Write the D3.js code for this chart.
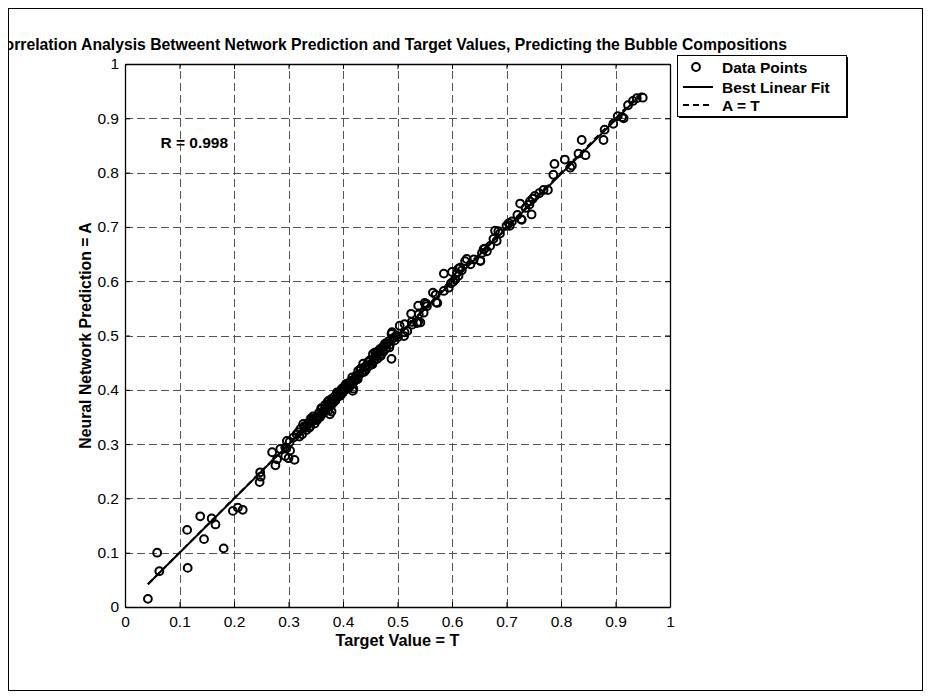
<!DOCTYPE html>
<html><head><meta charset="utf-8">
<script src="https://cdn.jsdelivr.net/npm/d3@7"></script>
<style>
body{margin:0;background:#fff;}
svg{display:block;font-family:"Liberation Sans",Arial,sans-serif;}
</style></head>
<body><svg id="c" width="931" height="698"></svg>
<script>
const targets = [
0.042,0.059,0.063,0.115,0.114,0.138,0.145,0.159,0.166,0.181,0.198,0.207,0.216,0.247,0.249,0.248,
0.276,0.279,0.270,0.285,0.294,0.303,0.311,0.297,0.309,0.315,0.294,0.300,0.302,0.296,
0.327,0.337,0.346,0.355,0.361,0.367,0.376,0.379,0.388,0.398,0.410,0.419,0.422,0.428,0.437,0.446,0.455,0.468,0.477,0.489,0.489,0.504,0.513,0.526,0.538,0.538,0.550,
0.379,0.418,0.490,0.481,0.459,
0.318,0.322,0.325,0.330,0.333,0.335,0.340,0.343,0.348,0.350,0.352,0.356,0.358,0.362,0.364,0.366,0.369,0.371,0.373,0.375,0.378,0.381,0.383,0.385,0.387,0.390,0.392,0.394,0.396,0.399,0.401,0.403,0.405,0.407,0.409,0.412,0.414,0.416,0.420,0.424,0.426,0.430,0.433,0.435,0.440,0.442,0.444,0.448,0.450,0.452,0.457,0.461,0.463,0.465,0.470,0.472,0.474,0.479,0.483,0.486,0.492,0.495,0.498,0.501,
0.320,0.329,0.338,0.345,0.353,0.360,0.368,0.374,0.382,0.389,0.395,0.404,0.411,0.417,0.425,0.432,0.439,0.447,0.454,0.462,0.469,0.476,0.485,0.341,0.357,0.372,0.386,0.406,0.427,0.466,
0.512,0.518,0.527,0.536,0.539,0.548,0.554,0.573,0.570,0.585,0.594,0.585,0.606,0.609,0.615,0.624,0.634,0.652,0.655,0.664,0.682,0.685,0.704,0.710,0.728,0.725,0.746,0.743,
0.565,0.571,0.553,0.525,0.542,0.513,0.598,0.602,0.612,0.618,0.640,0.660,0.670,0.688,0.700,0.720,0.735,0.748,0.752,
0.742,0.727,0.706,0.679,0.676,0.658,0.627,0.652,0.612,0.600,
0.760,0.768,0.776,0.786,0.788,0.807,0.817,0.820,0.832,0.838,0.845,0.878,0.880,0.896,0.904,0.912,0.915,0.923,0.932,0.939,0.950
];
const predictions = [
0.015,0.100,0.066,0.072,0.142,0.167,0.125,0.163,0.152,0.108,0.177,0.183,0.179,0.230,0.240,0.248,
0.261,0.272,0.285,0.291,0.294,0.288,0.271,0.306,0.312,0.318,0.278,0.274,0.304,0.292,
0.337,0.340,0.346,0.352,0.365,0.372,0.355,0.383,0.392,0.402,0.411,0.402,0.420,0.435,0.448,0.451,0.466,0.475,0.485,0.457,0.503,0.518,0.506,0.525,0.525,0.555,0.560,
0.360,0.398,0.506,0.485,0.469,
0.322,0.328,0.318,0.331,0.326,0.335,0.333,0.341,0.338,0.349,0.344,0.358,0.350,0.356,0.360,0.363,0.366,0.370,0.362,0.375,0.371,0.378,0.386,0.380,0.384,0.388,0.395,0.390,0.398,0.394,0.404,0.399,0.408,0.402,0.406,0.414,0.409,0.417,0.415,0.426,0.421,0.428,0.439,0.432,0.442,0.437,0.445,0.444,0.455,0.448,0.454,0.462,0.457,0.468,0.466,0.478,0.470,0.476,0.489,0.483,0.495,0.491,0.500,0.497,
0.314,0.333,0.330,0.351,0.347,0.366,0.361,0.380,0.376,0.395,0.389,0.408,0.404,0.423,0.419,0.438,0.433,0.452,0.447,0.467,0.462,0.481,0.478,0.347,0.352,0.378,0.380,0.411,0.420,0.472,
0.499,0.508,0.520,0.523,0.539,0.542,0.554,0.560,0.575,0.582,0.588,0.614,0.603,0.615,0.625,0.637,0.631,0.637,0.652,0.655,0.674,0.692,0.707,0.710,0.713,0.743,0.723,0.747,
0.579,0.561,0.558,0.540,0.524,0.521,0.596,0.599,0.610,0.620,0.640,0.660,0.665,0.688,0.702,0.722,0.735,0.752,0.757,
0.741,0.714,0.702,0.693,0.678,0.659,0.641,0.638,0.623,0.617,
0.762,0.768,0.768,0.796,0.816,0.824,0.809,0.813,0.835,0.860,0.832,0.860,0.879,0.890,0.904,0.902,0.900,0.924,0.932,0.937,0.938
];
const tickValues = [0,0.1,0.2,0.3,0.4,0.5,0.6,0.7,0.8,0.9,1];
const fitSlope = 0.997, fitIntercept = 0.0;
const rValue = "R = 0.998";
const titleText = "Correlation Analysis Betweent Network Prediction and Target Values, Predicting the Bubble Compositions";
const xLabel = "Target Value = T", yLabel = "Neural Network Prediction = A";
const legendLabels = ["Data Points","Best Linear Fit","A = T"];

const svg = d3.select("#c");
const L=125, R=670, T=64, B=607;
const x = d3.scaleLinear().domain([0,1]).range([L,R]);
const y = d3.scaleLinear().domain([0,1]).range([B,T]);
const fmt = d => String(+d.toFixed(1));

svg.append("clipPath").attr("id","fr").append("rect").attr("x",9).attr("y",9).attr("width",913).attr("height",681);
const root = svg.append("g").attr("clip-path","url(#fr)");
root.append("rect").attr("x",0).attr("y",0).attr("width",931).attr("height",698).attr("fill","#fff");

// grid
const gx = root.append("g").attr("transform",`translate(0,${B})`)
  .call(d3.axisBottom(x).tickValues(tickValues.slice(1,-1)).tickSize(-(B-T)).tickFormat(""));
const gy = root.append("g").attr("transform",`translate(${L},0)`)
  .call(d3.axisLeft(y).tickValues(tickValues.slice(1,-1)).tickSize(-(R-L)).tickFormat(""));
[gx,gy].forEach(g=>{g.select(".domain").remove();
  g.selectAll("line").attr("stroke","#555").attr("stroke-width",1).attr("stroke-dasharray","8,4").attr("shape-rendering","crispEdges");});

// axes
const ax = root.append("g").attr("transform",`translate(0,${B})`)
  .call(d3.axisBottom(x).tickValues(tickValues).tickSizeInner(-5).tickSizeOuter(0).tickPadding(9).tickFormat(fmt));
const ay = root.append("g").attr("transform",`translate(${L},0)`)
  .call(d3.axisLeft(y).tickValues(tickValues).tickSizeInner(-5).tickSizeOuter(0).tickPadding(6).tickFormat(fmt));
const at = root.append("g").attr("transform",`translate(0,${T})`)
  .call(d3.axisTop(x).tickValues(tickValues).tickSizeInner(-5).tickSizeOuter(0).tickFormat(""));
const ar = root.append("g").attr("transform",`translate(${R},0)`)
  .call(d3.axisRight(y).tickValues(tickValues).tickSizeInner(-5).tickSizeOuter(0).tickFormat(""));
[ax,ay,at,ar].forEach(g=>{g.select(".domain").attr("stroke","#000").attr("stroke-width",1.3);
  g.selectAll("line").attr("stroke","#000").attr("stroke-width",1);
  g.selectAll("text").attr("font-size",15.5).attr("fill","#000").attr("font-family","Liberation Sans, Arial, sans-serif");});

// lines
const t0 = d3.min(targets), t1 = d3.max(targets);
root.append("line").attr("x1",x(t0)).attr("y1",y(t0*fitSlope+fitIntercept)).attr("x2",x(t1)).attr("y2",y(t1*fitSlope+fitIntercept))
  .attr("stroke","#000").attr("stroke-width",2);
root.append("line").attr("x1",x(t0)).attr("y1",y(t0)).attr("x2",x(t1)).attr("y2",y(t1))
  .attr("stroke","#000").attr("stroke-width",2).attr("stroke-dasharray","6,4");

// points
root.append("g").selectAll("circle").data(targets.map((t,i)=>[t,predictions[i]])).join("circle")
  .attr("cx",d=>x(d[0])).attr("cy",d=>y(d[1])).attr("r",3.9)
  .attr("fill","none").attr("stroke","#000").attr("stroke-width",2);

// texts
root.append("text").attr("x",787).attr("y",50).attr("text-anchor","end").attr("font-weight","bold").attr("font-size",15.75).text(titleText);
root.append("text").attr("x",(L+R)/2).attr("y",646).attr("text-anchor","middle").attr("font-weight","bold").attr("font-size",16.3).text(xLabel);
root.append("text").attr("transform",`translate(91,${(T+B)/2}) rotate(-90)`).attr("text-anchor","middle").attr("font-weight","bold").attr("font-size",15.8).text(yLabel);
root.append("text").attr("x",x(0.065)).attr("y",y(0.845)).attr("font-weight","bold").attr("font-size",15.5).text(rValue);

// legend
const lg = root.append("g");
lg.append("rect").attr("x",679).attr("y",57).attr("width",169).attr("height",61).attr("fill","#000");
lg.append("rect").attr("x",677.5).attr("y",55.5).attr("width",169).attr("height",61).attr("fill","#fff").attr("stroke","#000").attr("stroke-width",1);
const ly = [67,87,105];
lg.append("circle").attr("cx",696).attr("cy",ly[0]).attr("r",3.9).attr("fill","none").attr("stroke","#000").attr("stroke-width",2);
lg.append("line").attr("x1",683).attr("x2",713).attr("y1",ly[1]).attr("y2",ly[1]).attr("stroke","#000").attr("stroke-width",2);
lg.append("line").attr("x1",683).attr("x2",713).attr("y1",ly[2]).attr("y2",ly[2]).attr("stroke","#000").attr("stroke-width",2).attr("stroke-dasharray","6,4");
lg.selectAll("text.l").data(legendLabels).join("text").attr("class","l").attr("x",722).attr("y",(d,i)=>ly[i]+5.5)
  .attr("font-weight","bold").attr("font-size",15.5).text(d=>d);

// frame
svg.append("rect").attr("x",8.5).attr("y",8.5).attr("width",914).attr("height",682).attr("fill","none").attr("stroke","#000").attr("stroke-width",1);
</script></body></html>
